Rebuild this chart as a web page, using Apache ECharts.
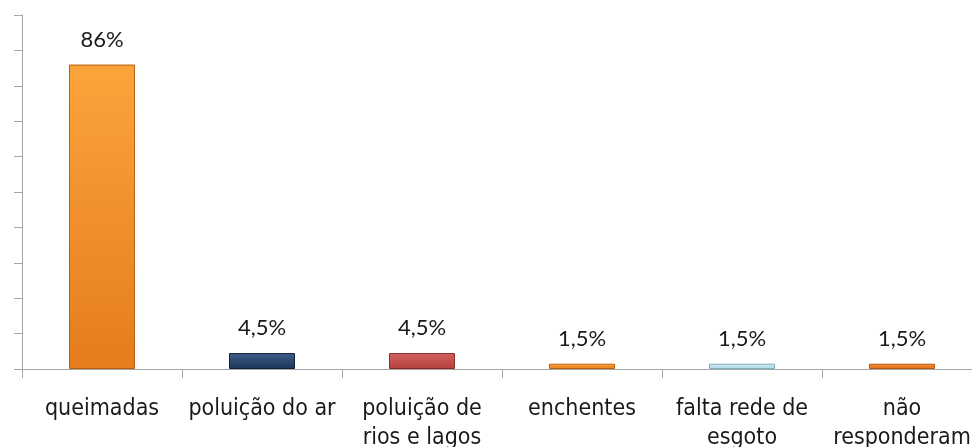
<!DOCTYPE html>
<html>
<head>
<meta charset="utf-8">
<script src="https://cdn.jsdelivr.net/npm/echarts@6/dist/echarts.min.js"></script>
<style>
  html, body { margin: 0; padding: 0; background: #fff; overflow: hidden; }
  #chart { width: 982px; height: 447px; }
</style>
</head>
<body>
<div id="chart"></div>
<script>
var categories = ['queimadas', 'poluição do ar', 'poluição de\nrios e lagos', 'enchentes', 'falta rede de\nesgoto', 'não\nresponderam'];
var values = [86, 4.5, 4.5, 1.5, 1.5, 1.5];
var yTicks = [0, 10, 20, 30, 40, 50, 60, 70, 80, 90, 100];

// bar colours: [top, bottom, border]
var barColors = [
    ['#fca43c', '#e57c1e', '#b8600f'],
    ['#3e5f8c', '#1c3559', '#0f2138'],
    ['#d4615e', '#b3403d', '#8a2b28'],
    ['#fca43c', '#e57c1e', '#b8600f'],
    ['#d3eef6', '#a9d7e6', '#7fb0c2'],
    ['#f98e36', '#e0701a', '#b45510']
];

// chart div is 10px wider than the window, the last category runs off the right edge like the original
var chart = echarts.init(document.getElementById('chart'));

var seriesData = values.map(function(v, i){
    var c = barColors[i];
    return {
        value: v,
        itemStyle: {
            color: new echarts.graphic.LinearGradient(0, 0, 0, 1, [
                {offset: 0, color: c[0]},
                {offset: 1, color: c[1]}
            ]),
            borderColor: c[2],
            borderWidth: 1
        }
    };
});

chart.setOption({
    animation: false,
    grid: { left: 22, right: 0, top: 15, bottom: 78, outerBoundsMode: 'none' },
    xAxis: {
        type: 'category',
        data: categories,
        axisLine: { lineStyle: { color: '#a6a6a6', width: 1 } },
        axisTick: { show: true, length: 9, lineStyle: { color: '#a6a6a6' } },
        axisLabel: {
            color: '#1a1a1a',
            fontFamily: 'DejaVu Sans Condensed',
            fontSize: 23,
            lineHeight: 29,
            margin: 26,
            interval: 0
        }
    },
    yAxis: {
        type: 'value',
        min: yTicks[0],
        max: yTicks[yTicks.length - 1],
        interval: 10,
        axisLine: { show: true, lineStyle: { color: '#a6a6a6', width: 1 } },
        axisTick: { show: true, length: 8, lineStyle: { color: '#a6a6a6' } },
        axisLabel: { show: false },
        splitLine: { show: false }
    },
    series: [{
        type: 'bar',
        data: seriesData,
        barWidth: 66,
        label: {
            show: true,
            position: 'top',
            distance: 14,
            color: '#1a1a1a',
            fontFamily: 'Lato',
            fontSize: 22,
            formatter: function(p){
                return String(p.value).replace('.', ',') + '%';
            }
        }
    }]
});
</script>
</body>
</html>
